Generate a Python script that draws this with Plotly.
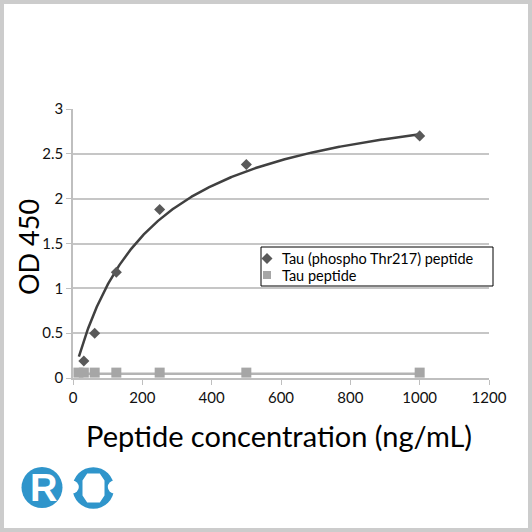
import numpy as np
import plotly.graph_objects as go

# peptide concentration (ng/mL)
conc_phospho = [31.25, 62.5, 125, 250, 500, 1000]
od_phospho = [0.19, 0.50, 1.18, 1.88, 2.38, 2.70]

conc_tau = [15.625, 31.25, 62.5, 125, 250, 500, 1000]
od_tau = [0.06, 0.06, 0.06, 0.06, 0.06, 0.06, 0.06]

series_names = ["Tau (phospho Thr217) peptide", "Tau peptide"]

# fitted binding curve drawn on the chart: OD = bmax * c / (kd + c)
trend_bmax = 3.31
trend_kd = 218
trend_from = 17
trend_level_tau = 0.048

x_ticks = [0, 200, 400, 600, 800, 1000, 1200]
y_ticks = [0, 0.5, 1, 1.5, 2, 2.5, 3]

DARK = "#595959"
LIGHT = "#a6a6a6"
BLUE = "#2f95cb"
FONT = "Lato"

# plot area in pixels (532 x 532 canvas)
L, R, T, B = 73, 489, 109, 378


def px(x):
    return (x - L) / (R - L)


def py(y):
    return (B - y) / (B - T)


def poly(points):
    return "M " + " L ".join(f"{px(a)},{py(b)}" for a, b in points) + " Z"


xs = np.linspace(trend_from, max(conc_phospho), 400)
ys = trend_bmax * xs / (trend_kd + xs)

fig = go.Figure()
fig.add_trace(go.Scatter(x=xs, y=ys, mode="lines", line=dict(color="#404040", width=2.5),
                         showlegend=False, hoverinfo="skip"))
fig.add_trace(go.Scatter(x=[min(conc_tau), max(conc_tau)], y=[trend_level_tau] * 2, mode="lines",
                         line=dict(color="#b4b4b4", width=2.5),
                         showlegend=False, hoverinfo="skip"))
fig.add_trace(go.Scatter(x=conc_phospho, y=od_phospho, mode="markers", name=series_names[0],
                         marker=dict(symbol="diamond", size=8.5, color=DARK), showlegend=False))
fig.add_trace(go.Scatter(x=conc_tau, y=od_tau, mode="markers", name=series_names[1],
                         marker=dict(symbol="square", size=10, color=LIGHT), showlegend=False))

shapes = []
# outer light grey frame
shapes.append(dict(type="rect", xref="paper", yref="paper",
                   x0=px(2), x1=px(530), y0=py(2), y1=py(530),
                   line=dict(color="#cccccc", width=4), fillcolor="rgba(0,0,0,0)"))
# legend box and symbols
shapes.append(dict(type="rect", xref="paper", yref="paper", layer="above",
                   x0=px(261), x1=px(493), y0=py(247), y1=py(286),
                   line=dict(color="#000000", width=1), fillcolor="white"))
shapes.append(dict(type="path", xref="paper", yref="paper", layer="above",
                   path=poly([(267, 253), (272.5, 258.5), (267, 264), (261.5, 258.5)]),
                   line=dict(width=0), fillcolor=DARK))
shapes.append(dict(type="rect", xref="paper", yref="paper", layer="above",
                   x0=px(263), x1=px(271), y0=py(279), y1=py(271),
                   line=dict(width=0), fillcolor=LIGHT))
# logo circles
for cx, cy, r in [(42, 487.5, 20.5), (93.3, 488, 20.8)]:
    shapes.append(dict(type="circle", xref="paper", yref="paper",
                       x0=px(cx - r), x1=px(cx + r), y0=py(cy + r), y1=py(cy - r),
                       line=dict(width=0), fillcolor=BLUE))
# notches and inner blob of second logo circle
for cx, cy, r in [(72.3, 487, 6.5), (114.3, 487, 6.5)]:
    shapes.append(dict(type="circle", xref="paper", yref="paper",
                       x0=px(cx - r), x1=px(cx + r), y0=py(cy + r), y1=py(cy - r),
                       line=dict(width=0), fillcolor="white"))
blob = [(88, 475), (99, 475), (103, 481), (103, 495), (99, 501), (88, 501), (84, 495), (84, 481)]
shapes.append(dict(type="path", xref="paper", yref="paper", path=poly(blob),
                   line=dict(color="white", width=3), fillcolor="white"))


def label(x, y, text, size, **kw):
    d = dict(x=px(x), y=py(y), xref="paper", yref="paper", text=text, showarrow=False,
             xanchor="center", yanchor="middle", font=dict(size=size, color="#000000"))
    d.update(kw)
    return d


annotations = [
    label(279, 435, "Peptide concentration (ng/mL)", 29),
    label(28, 247, "OD 450", 27, textangle=-90),
    label(43, 488, "<b>R</b>", 38, font=dict(family="Liberation Sans", size=38, color="white")),
    label(280, 258, series_names[0], 14.5, xanchor="left"),
    label(280, 275, series_names[1], 14.5, xanchor="left"),
]

fig.update_layout(
    width=532, height=532,
    margin=dict(l=L, r=532 - R, t=T, b=532 - B, autoexpand=False),
    paper_bgcolor="white", plot_bgcolor="white",
    font=dict(family=FONT, color="#111111"),
    shapes=shapes,
    annotations=annotations,
    showlegend=False,
)

fig.update_xaxes(range=[0, 1200], tickvals=x_ticks, showgrid=False, zeroline=False,
                 showline=True, linecolor="#bfbfbf", linewidth=1.5, automargin=False,
                 ticks="outside", ticklen=5, tickcolor="#bfbfbf",
                 tickfont=dict(size=15))
fig.update_yaxes(range=[0, 3], tickvals=y_ticks, ticktext=["0", "0.5", "1", "1.5", "2", "2.5", "3"],
                 showgrid=True, gridcolor="#c6c6c6", gridwidth=1.5, zeroline=False,
                 showline=True, linecolor="#bfbfbf", linewidth=1.5, automargin=False,
                 ticks="outside", ticklen=5, tickcolor="#bfbfbf",
                 tickfont=dict(size=15))

fig.write_html("out.html", config={"displayModeBar": False},
               post_script="document.body.style.margin='0px';")
